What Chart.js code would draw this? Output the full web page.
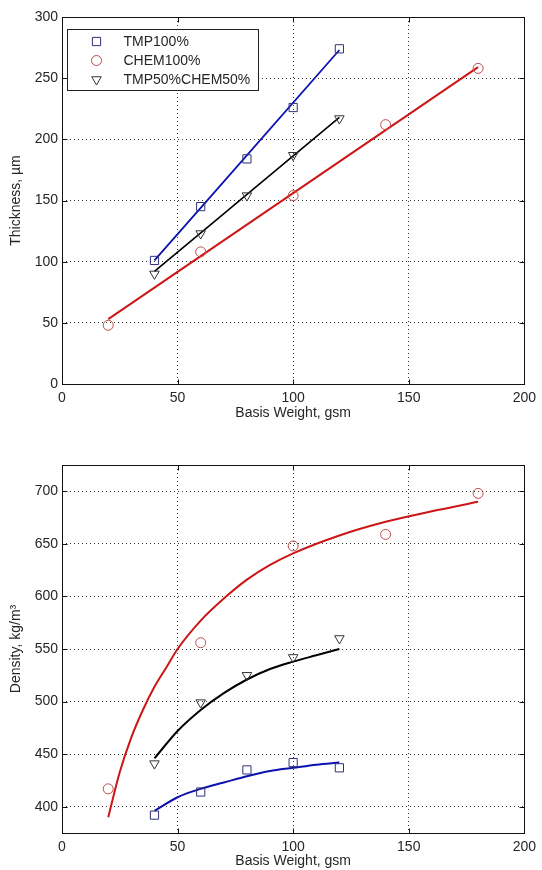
<!DOCTYPE html>
<html lang="en">
<head>
<meta charset="UTF-8">
<title>Thickness and density vs basis weight</title>
<script src="https://cdn.jsdelivr.net/npm/chart.js"></script>
<style>
    body { margin: 0; background: #fff; }
    canvas { display: block; }
</style>
</head>
<body>
<canvas id="thicknessChart" width="542" height="435"></canvas>
<canvas id="densityChart" width="542" height="435"></canvas>
<script>
const seriesNames = ['TMP100%', 'CHEM100%', 'TMP50%CHEM50%'];
const xTicks = [0, 50, 100, 150, 200];
const thicknessTicks = [0, 50, 100, 150, 200, 250, 300];
const densityTicks = [400, 450, 500, 550, 600, 650, 700];

// measured points (basis weight, gsm)
const tmpBasis = [40, 60, 80, 100, 120];
const chemBasis = [20, 60, 100, 140, 180];
const mixBasis = [40, 60, 80, 100, 120];

const tmpThickness = [101, 145, 184, 226, 274];
const chemThickness = [48, 108, 154, 212, 258];
const mixThickness = [90, 123, 154, 187, 217];

const tmpDensity = [392, 414, 435, 442, 437];
const chemDensity = [417, 556, 648, 659, 698];
const mixDensity = [441, 499, 525, 542, 560];

// fit lines
const tmpThickFitX = [40, 120];
const tmpThickFitY = [101, 273];
const chemThickFitX = [20, 180];
const chemThickFitY = [53, 259];
const mixThickFitX = [40, 120];
const mixThickFitY = [92, 218];

const tmpDensFitX = [40, 50, 60, 70, 80, 90, 100, 110, 120];
const tmpDensFitY = [396, 409, 417, 423, 429, 434, 437, 440, 442];
const chemDensFitX = [20, 25, 30, 35, 40, 45, 50, 60, 70, 80, 90, 100, 120, 140, 160, 180];
const chemDensFitY = [390, 433, 466, 492, 514, 532, 550, 577, 598, 616, 630, 641, 658, 671, 681, 690];
const mixDensFitX = [40, 50, 60, 70, 80, 90, 100, 110, 120];
const mixDensFitY = [446, 472, 492, 508, 521, 531, 538, 544, 550];

const FONT = { family: '"Liberation Sans", Arial, sans-serif', size: 14 };
const TEXT = '#262626';

function pts(xs, ys) {
    return xs.map((x, i) => ({ x: x, y: ys[i] }));
}

function markers(label, xs, ys, style, color, radius, rotation) {
    return {
        label: label, data: pts(xs, ys), showLine: false,
        pointStyle: style, pointRadius: radius, pointHoverRadius: radius,
        pointRotation: rotation || 0, pointBorderWidth: 1,
        pointBorderColor: color, pointBackgroundColor: 'rgba(0,0,0,0)'
    };
}

function fitLine(xs, ys, color, width) {
    return {
        label: 'fit', data: pts(xs, ys), showLine: true, pointRadius: 0,
        borderColor: color, borderWidth: width, cubicInterpolationMode: 'monotone', fill: false
    };
}

// box round the plot + inward ticks, like the matlab axes
const frame = {
    id: 'frame',
    beforeDatasetsDraw(chart) {
        const { ctx, chartArea: a, scales: { x, y } } = chart;
        const L = Math.round(a.left) + 0.5, R = Math.round(a.right) + 0.5;
        const T = Math.round(a.top) + 0.5, B = Math.round(a.bottom) + 0.5;
        ctx.save();
        ctx.strokeStyle = '#111';
        ctx.lineWidth = 1;
        ctx.strokeRect(L, T, R - L, B - T);
        ctx.beginPath();
        x.ticks.forEach(t => {
            const px = Math.round(x.getPixelForValue(t.value)) + 0.5;
            ctx.moveTo(px, B); ctx.lineTo(px, B - 5);
            ctx.moveTo(px, T); ctx.lineTo(px, T + 5);
        });
        y.ticks.forEach(t => {
            const py = Math.round(y.getPixelForValue(t.value)) + 0.5;
            ctx.moveTo(L, py); ctx.lineTo(L + 5, py);
            ctx.moveTo(R, py); ctx.lineTo(R - 5, py);
        });
        ctx.stroke();
        ctx.restore();
    }
};

// boxed legend in the top left corner
const boxLegend = {
    id: 'boxLegend',
    afterDatasetsDraw(chart) {
        const { ctx, chartArea: a } = chart;
        const left = Math.round(a.left + 5) + 0.5, top = Math.round(a.top + 12) + 0.5;
        ctx.save();
        ctx.fillStyle = '#fff';
        ctx.fillRect(left, top, 191, 61);
        ctx.strokeStyle = '#222';
        ctx.lineWidth = 1;
        ctx.strokeRect(left, top, 191, 61);
        ctx.font = `${FONT.size}px ${FONT.family}`;
        ctx.textBaseline = 'middle';
        chart.data.datasets.filter(d => d.label !== 'fit').forEach((d, i) => {
            const cy = top + 12 + i * 19;
            ctx.fillStyle = 'rgba(0,0,0,0)';
            ctx.strokeStyle = d.pointBorderColor;
            ctx.lineWidth = 1;
            Chart.helpers.drawPoint(ctx, {
                pointStyle: d.pointStyle, rotation: d.pointRotation, radius: d.pointRadius,
                borderWidth: 1
            }, left + 29, cy);
            ctx.fillStyle = TEXT;
            ctx.fillText(d.label, left + 56, cy + 1);
        });
        ctx.restore();
    }
};

function makeChart(id, datasets, yMin, yMax, yTicks, yTitle, padTop, xHeight, xTitlePad, plugins) {
    return new Chart(document.getElementById(id), {
        type: 'scatter',
        data: { datasets: datasets },
        plugins: plugins,
        options: {
            responsive: false,
            animation: false,
            events: [],
            layout: { padding: { top: padTop, right: 13, left: 0, bottom: 0 } },
            plugins: { legend: { display: false }, tooltip: { enabled: false } },
            scales: {
                x: {
                    type: 'linear', min: 0, max: 200,
                    afterBuildTicks: s => { s.ticks = xTicks.map(v => ({ value: v })); },
                    afterFit: s => { s.height = xHeight; },
                    grid: { color: '#333', lineWidth: 1, drawTicks: false },
                    border: { display: false, dash: [1, 3] },
                    ticks: { color: TEXT, font: FONT, padding: 6, maxRotation: 0 },
                    title: { display: true, text: 'Basis Weight, gsm', color: TEXT, font: FONT,
                             padding: { top: 0, bottom: xTitlePad } }
                },
                y: {
                    type: 'linear', min: yMin, max: yMax,
                    afterBuildTicks: s => { s.ticks = yTicks.map(v => ({ value: v })); },
                    ticks: { color: TEXT, font: FONT, padding: 4 },
                    afterFit: s => { s.width = 62; },
                    grid: { color: '#333', lineWidth: 1, drawTicks: false },
                    border: { display: false, dash: [1, 3] },
                    title: { display: true, text: yTitle, color: TEXT, font: FONT,
                             padding: { top: 8, bottom: 0 } }
                }
            }
        }
    });
}

makeChart('thicknessChart', [
    markers(seriesNames[0], tmpBasis, tmpThickness, 'rect', '#30307a', 5.8),
    markers(seriesNames[1], chemBasis, chemThickness, 'circle', '#c24a4a', 5),
    markers(seriesNames[2], mixBasis, mixThickness, 'triangle', '#333', 5.5, 180),
    fitLine(tmpThickFitX, tmpThickFitY, '#0c12b0', 1.8),
    fitLine(chemThickFitX, chemThickFitY, '#cc1616', 2),
    fitLine(mixThickFitX, mixThickFitY, '#000', 1.6)
], 0, 300, thicknessTicks, 'Thickness, µm', 17, 51, 13, [frame, boxLegend]);

makeChart('densityChart', [
    markers(seriesNames[0], tmpBasis, tmpDensity, 'rect', '#30307a', 5.8),
    markers(seriesNames[1], chemBasis, chemDensity, 'circle', '#c24a4a', 5),
    markers(seriesNames[2], mixBasis, mixDensity, 'triangle', '#333', 5.5, 180),
    fitLine(tmpDensFitX, tmpDensFitY, '#0c12b0', 2),
    fitLine(chemDensFitX, chemDensFitY, '#cc1616', 2),
    fitLine(mixDensFitX, mixDensFitY, '#000', 2)
], 375, 725, densityTicks, 'Density, kg/m³', 30, 37, 0, [frame]);
</script>
</body>
</html>
